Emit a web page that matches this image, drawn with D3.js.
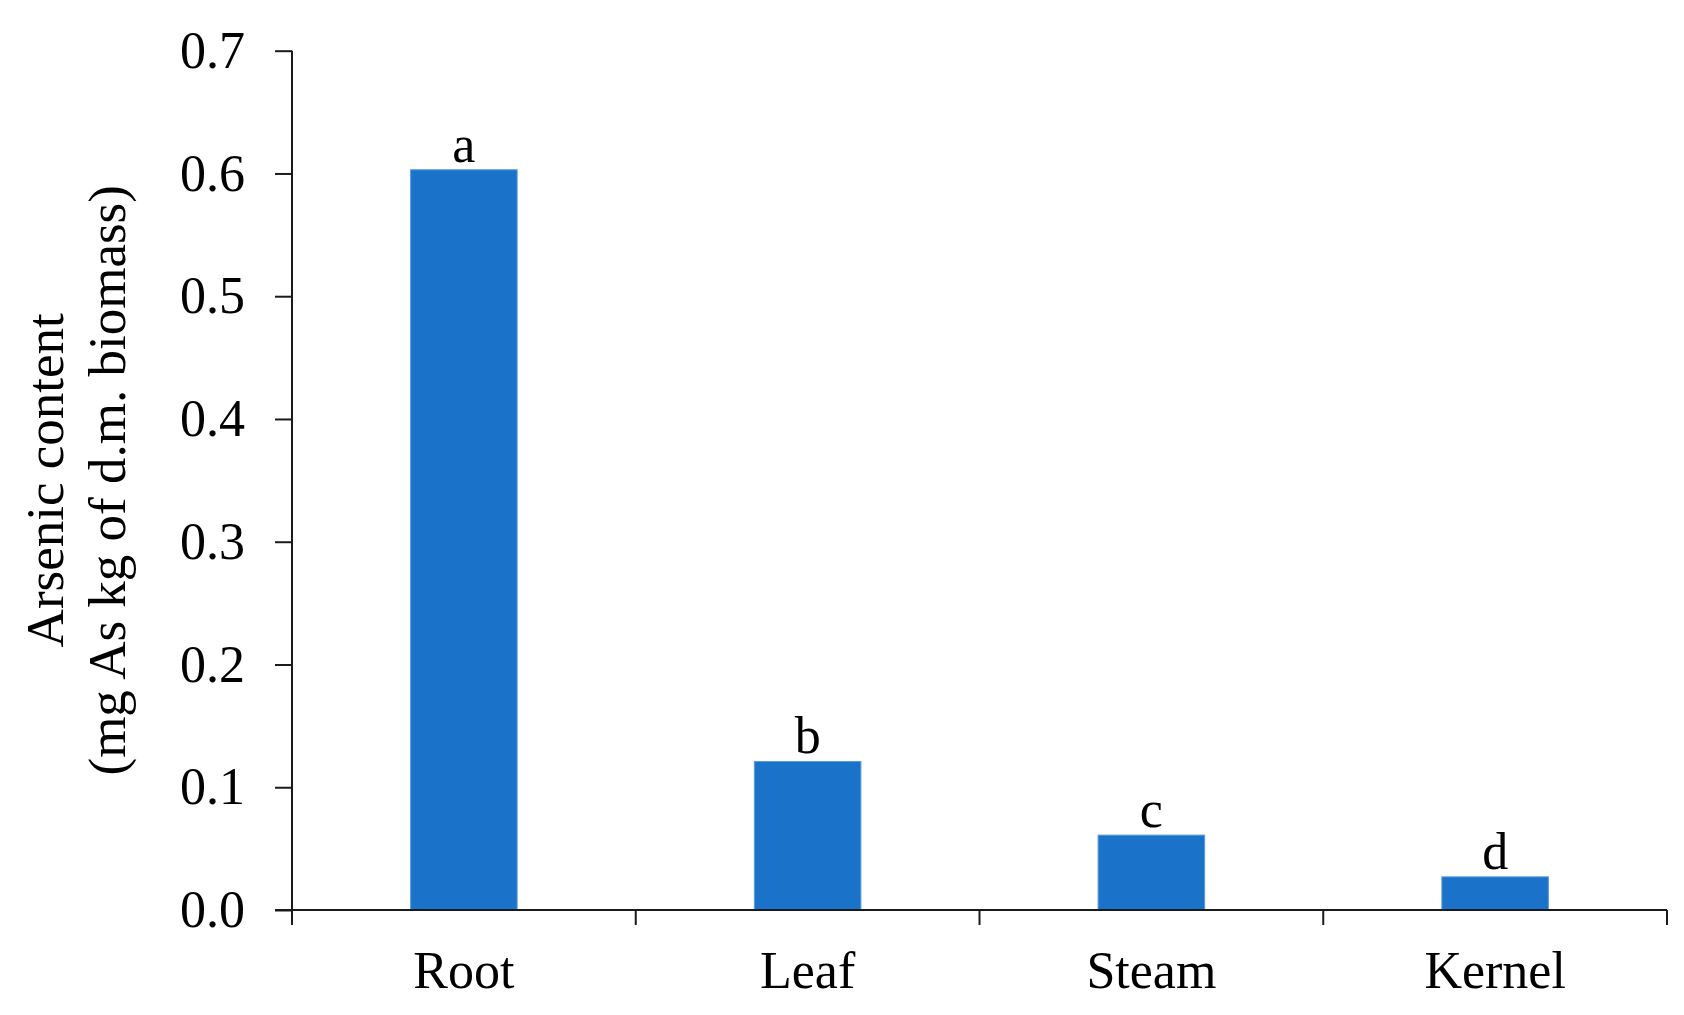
<!DOCTYPE html>
<html>
<head>
<meta charset="utf-8">
<script src="https://cdn.jsdelivr.net/npm/d3@7"></script>
<style>
  html, body { margin: 0; padding: 0; background: #fff; }
  svg { display: block; }
  text { font-family: "Liberation Serif", "Times New Roman", serif; fill: #000; }
</style>
</head>
<body>
<script>
// Data
const categories = ["Root", "Leaf", "Steam", "Kernel"];
const values = [0.603, 0.121, 0.061, 0.027];
const letters = ["a", "b", "c", "d"];
const yTicks = [0, 0.1, 0.2, 0.3, 0.4, 0.5, 0.6, 0.7];
const yTitleLines = ["Arsenic content", "(mg As kg of d.m. biomass)"];

const W = 1684, H = 1015;
const plotLeft = 292, plotRight = 1667, plotTop = 50.7, plotBottom = 910;

const svg = d3.select("body").append("svg").attr("width", W).attr("height", H);

const x = d3.scaleBand().domain(categories).range([plotLeft, plotRight]).padding(0);
const y = d3.scaleLinear().domain([0, 0.7]).range([plotBottom, plotTop]);

const barW = x.bandwidth() * 0.31;
const color = "#1a73c9";
const axisColor = "#1a1a1a";

// Bars
svg.append("g").selectAll("rect")
  .data(values)
  .join("rect")
  .attr("x", (d, i) => x(categories[i]) + (x.bandwidth() - barW) / 2)
  .attr("y", d => y(d))
  .attr("width", barW)
  .attr("height", d => y(0) - y(d))
  .attr("fill", color)
  .attr("stroke", "#5b9be0")
  .attr("stroke-width", 1);

// Letters above bars
svg.append("g").selectAll("text")
  .data(values)
  .join("text")
  .attr("x", (d, i) => x(categories[i]) + x.bandwidth() / 2)
  .attr("y", d => y(d) - 8)
  .attr("text-anchor", "middle")
  .attr("font-size", 52)
  .text((d, i) => letters[i]);

// Y axis
const yAxis = d3.axisLeft(y).tickValues(yTicks).tickFormat(d3.format(".1f")).tickSize(17).tickPadding(30);
const gy = svg.append("g").attr("transform", `translate(${plotLeft},0)`).call(yAxis);
gy.select(".domain").remove();
gy.selectAll(".tick line").attr("stroke", axisColor).attr("stroke-width", 2);
gy.selectAll(".tick text")
  .attr("font-size", 52)
  .attr("font-family", "Liberation Serif, Times New Roman, serif")
  .attr("fill", "#000")
  .attr("dy", "0.32em");
// Y axis line (extends below x axis)
svg.append("line")
  .attr("x1", plotLeft).attr("x2", plotLeft)
  .attr("y1", y(0.7)).attr("y2", y(0) + 15)
  .attr("stroke", axisColor).attr("stroke-width", 2);

// X axis line
svg.append("line")
  .attr("x1", plotLeft - 17).attr("x2", plotRight)
  .attr("y1", y(0)).attr("y2", y(0))
  .attr("stroke", axisColor).attr("stroke-width", 2);

// X ticks at band boundaries
const boundaries = d3.range(1, categories.length + 1).map(i => x(categories[0]) + i * x.step());
svg.append("g").selectAll("line")
  .data(boundaries)
  .join("line")
  .attr("x1", d => d).attr("x2", d => d)
  .attr("y1", y(0)).attr("y2", y(0) + 15)
  .attr("stroke", axisColor).attr("stroke-width", 2);

// Category labels
svg.append("g").selectAll("text")
  .data(categories)
  .join("text")
  .attr("x", d => x(d) + x.bandwidth() / 2)
  .attr("y", 988)
  .attr("text-anchor", "middle")
  .attr("font-size", 52)
  .text(d => d);

// Y title
const yMid = (plotTop + plotBottom) / 2;
const titleX = [63, 125];
svg.append("g").selectAll("text")
  .data(yTitleLines)
  .join("text")
  .attr("transform", (d, i) => `translate(${titleX[i]},${yMid}) rotate(-90)`)
  .attr("text-anchor", "middle")
  .attr("font-size", 53)
  .text(d => d);
</script>
</body>
</html>
